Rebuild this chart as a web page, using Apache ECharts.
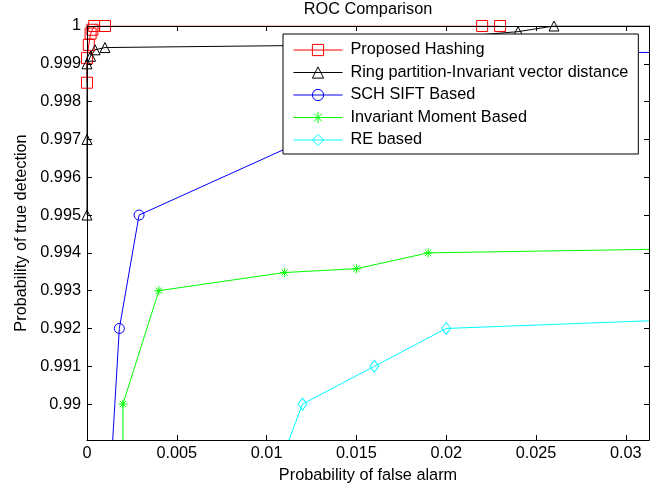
<!DOCTYPE html>
<html>
<head>
<meta charset="utf-8">
<script src="https://cdn.jsdelivr.net/npm/echarts@6/dist/echarts.min.js"></script>
<style>html,body{margin:0;padding:0;background:#fff}#c{width:665px;height:487px}</style>
</head>
<body>
<div id="c"></div>
<script>
const titleText = 'ROC Comparison';
const xName = 'Probability of false alarm';
const yName = 'Probability of true detection';
const seriesNames = ['Proposed Hashing', 'Ring partition-Invariant vector distance', 'SCH SIFT Based', 'Invariant Moment Based', 'RE based'];
const xTicks = [0, 0.005, 0.01, 0.015, 0.02, 0.025, 0.03];
const xTickLabels = ['0', '0.005', '0.01', '0.015', '0.02', '0.025', '0.03'];
const yTicks = [0.99, 0.991, 0.992, 0.993, 0.994, 0.995, 0.996, 0.997, 0.998, 0.999, 1];
const yTickLabels = ['0.99', '0.991', '0.992', '0.993', '0.994', '0.995', '0.996', '0.997', '0.998', '0.999', '1'];
const xRange = [0, 0.03129];
const yRange = [0.98905, 1];

const proposedHashing = [[0, 0.9985], [0, 0.99915], [0.0001, 0.9995], [0.0002, 0.9998], [0.0003, 0.9999], [0.0004, 1], [0.001, 1], [0.022, 1], [0.023, 1]];
const ringPartition = [[0, 0.995], [0, 0.997], [0, 0.999], [0.0002, 0.9992], [0.00045, 0.99937], [0.001, 0.99943], [0.015, 0.9995], [0.024, 0.99985], [0.026, 1], [0.04, 1]];
const schSift = [[0.0013, 0.988], [0.0018, 0.992], [0.0029, 0.995], [0.015, 0.9976], [0.02, 0.999], [0.03, 0.9993], [0.035, 0.9993]];
const invariantMoment = [[0.002, 0.985], [0.002, 0.99], [0.004, 0.993], [0.011, 0.99348], [0.015, 0.99358], [0.019, 0.994], [0.035, 0.99412]];
const reBased = [[0.0108, 0.9885], [0.012, 0.99], [0.016, 0.991], [0.02, 0.992], [0.035, 0.99227]];

const FONT = "'Liberation Sans', Arial, Helvetica, sans-serif";
const FS = 16.3;
const colors = ['#ff0000', '#000000', '#0000ff', '#00ff00', '#00ffff'];
const symbols = ['rect', 'triangle', 'circle', 'path://M5,0L5,10M0,5L10,5M1.5,1.5L8.5,8.5M8.5,1.5L1.5,8.5', 'diamond'];
const sizes = [11, 10, 10, 9, [9, 12]];
const datasets = [proposedHashing, ringPartition, schSift, invariantMoment, reBased];

function lab(ticks, labels) {
  return function (v) {
    for (let i = 0; i < ticks.length; i++) if (Math.abs(ticks[i] - v) < 1e-9) return labels[i];
    return '';
  };
}

const chart = echarts.init(document.getElementById('c'), null, { renderer: 'canvas' });
const axisCommon = {
  type: 'value',
  splitLine: { show: false },
  axisLine: { show: true, onZero: false, lineStyle: { color: '#000', width: 1 } },
  z: 5
};
chart.setOption({
  animation: false,
  backgroundColor: '#fff',
  grid: { left: 87, right: 16, top: 26, bottom: 47, containLabel: false, outerBoundsMode: 'none' },
  xAxis: [
    Object.assign({}, axisCommon, {
      position: 'bottom', min: xRange[0], max: xRange[1],
      name: xName, nameLocation: 'middle', nameGap: 28,
      nameTextStyle: { fontFamily: FONT, fontSize: FS, color: '#000' },
      axisTick: { show: true, inside: true, length: 5, customValues: xTicks, lineStyle: { color: '#000' } },
      axisLabel: { show: true, customValues: xTicks, formatter: lab(xTicks, xTickLabels), margin: 6, fontFamily: FONT, fontSize: FS, color: '#000' }
    }),
    Object.assign({}, axisCommon, {
      position: 'top', min: xRange[0], max: xRange[1],
      name: titleText, nameLocation: 'middle', nameGap: 8,
      nameTextStyle: { fontFamily: FONT, fontSize: FS, color: '#000' },
      axisTick: { show: true, inside: true, length: 5, customValues: xTicks, lineStyle: { color: '#000' } },
      axisLabel: { show: false }
    })
  ],
  yAxis: [
    Object.assign({}, axisCommon, {
      position: 'left', min: yRange[0], max: yRange[1],
      name: yName, nameLocation: 'middle', nameGap: 57,
      nameTextStyle: { fontFamily: FONT, fontSize: FS, color: '#000' },
      axisTick: { show: true, inside: true, length: 5, customValues: yTicks, lineStyle: { color: '#000' } },
      axisLabel: { show: true, customValues: yTicks, formatter: lab(yTicks, yTickLabels), margin: 6, fontFamily: FONT, fontSize: FS, color: '#000' }
    }),
    Object.assign({}, axisCommon, {
      position: 'right', min: yRange[0], max: yRange[1],
      axisTick: { show: true, inside: true, length: 5, customValues: yTicks, lineStyle: { color: '#000' } },
      axisLabel: { show: false }
    })
  ],
  legend: {
    show: true,
    orient: 'vertical',
    left: 283, top: 34,
    padding: [8, 10, 6, 10],
    itemWidth: 49, itemHeight: 14, itemGap: 6.5,
    backgroundColor: '#fff',
    borderColor: '#000', borderWidth: 1, borderRadius: 0,
    itemStyle: { borderWidth: 1 },
    lineStyle: { width: 1 },
    textStyle: { fontFamily: FONT, fontSize: FS, color: '#000', lineHeight: 16, padding: [0, 0, 0, 3] },
    data: seriesNames
  },
  series: datasets.map(function (d, i) {
    return {
      name: seriesNames[i],
      type: 'line',
      data: d,
      xAxisIndex: 0, yAxisIndex: 0,
      clip: true,
      symbol: symbols[i],
      symbolSize: sizes[i],
      showAllSymbol: true,
      lineStyle: { color: colors[i], width: 1 },
      itemStyle: { color: 'rgba(0,0,0,0)', borderColor: colors[i], borderWidth: 1 },
      emphasis: { disabled: true },
      z: 2
    };
  })
});
</script>
</body>
</html>
